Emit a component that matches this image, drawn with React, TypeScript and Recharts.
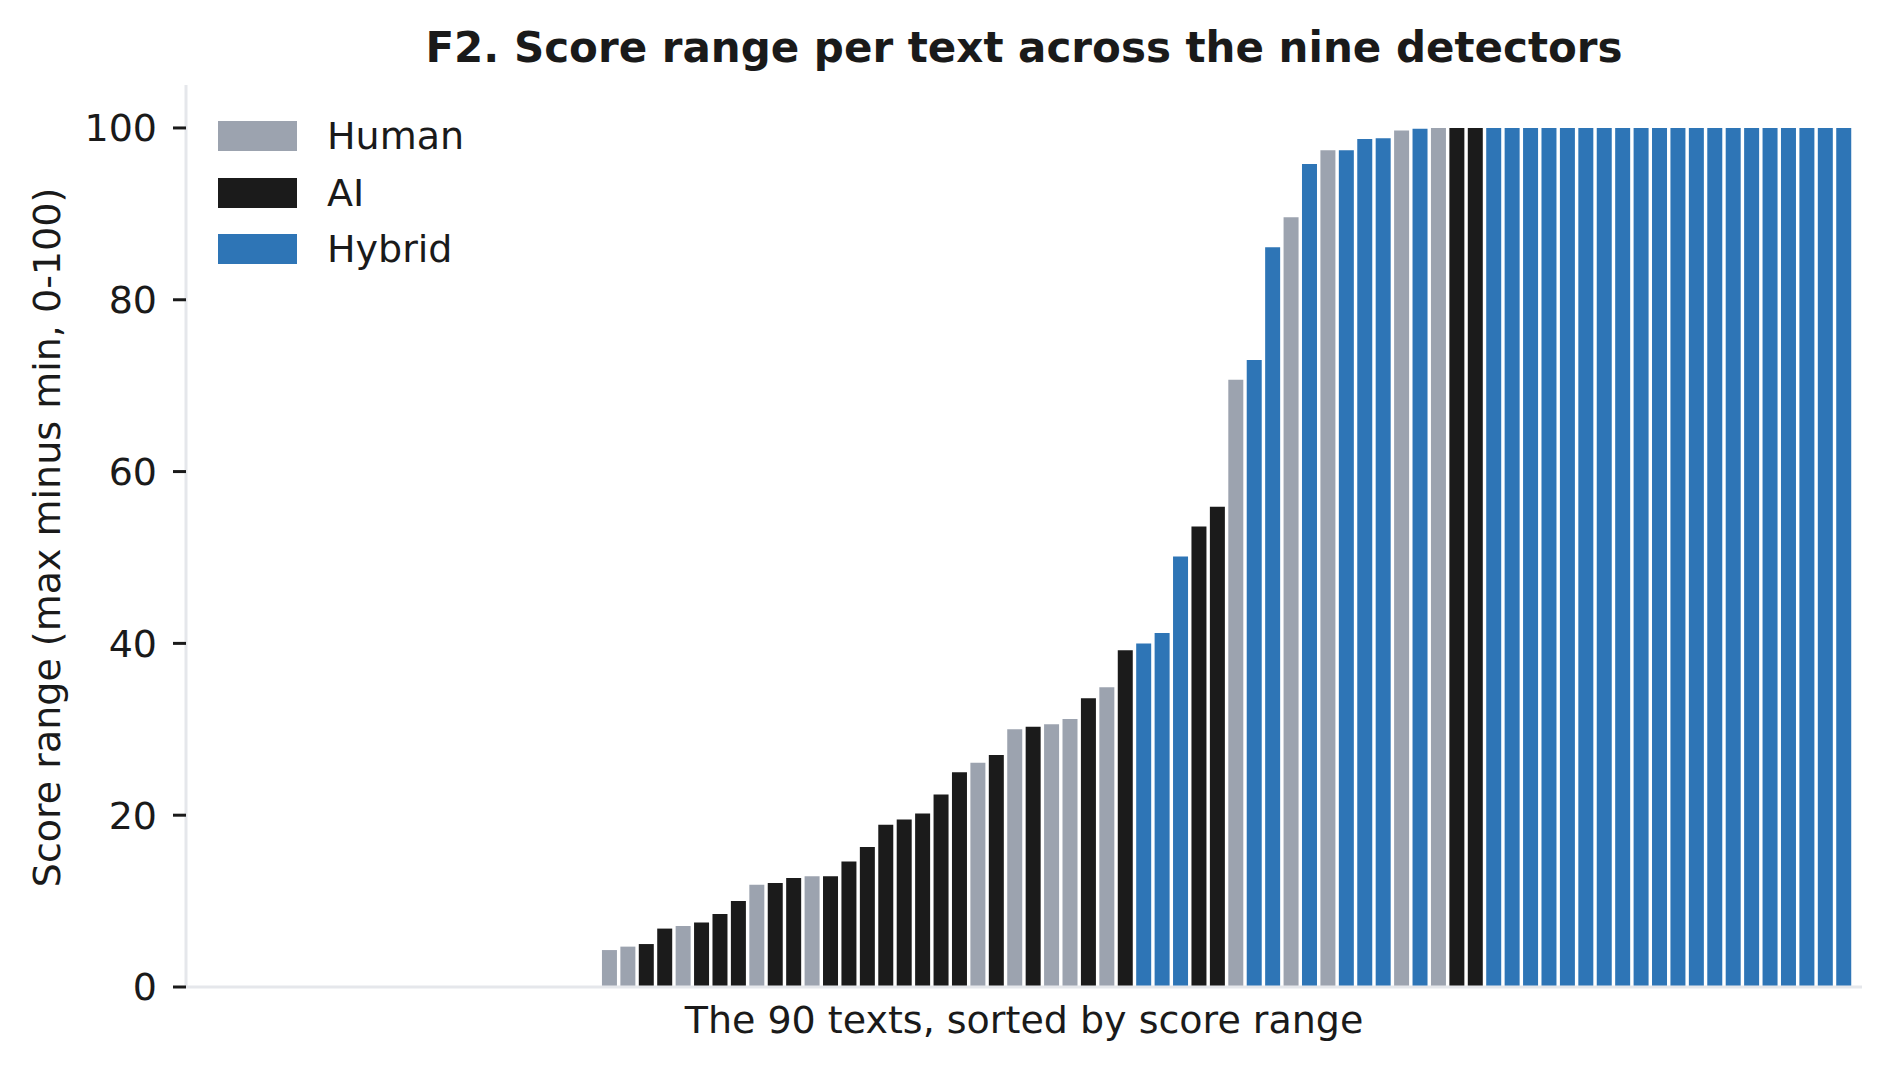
import React from 'react';
import { BarChart, Bar, XAxis, YAxis, Cell, Legend, Label } from 'recharts';

const TITLE = 'F2. Score range per text across the nine detectors';
const X_LABEL = 'The 90 texts, sorted by score range';
const Y_LABEL = 'Score range (max minus min, 0-100)';

const GROUPS = ['Human', 'AI', 'Hybrid'];
const GROUP_COLORS: Record<string, string> = {
  Human: '#9ca3af',
  AI: '#1b1b1b',
  Hybrid: '#2e75b6',
};

const Y_TICKS = [0, 20, 40, 60, 80, 100];

// score range (max minus min) per text, sorted ascending
const SCORE_RANGES = [
  0, 0, 0, 0, 0, 0, 0, 0, 0, 0,
  0, 0, 0, 0, 0, 0, 0, 0, 0, 0,
  0, 0,
  4.3, 4.7, 5.0, 6.8, 7.1, 7.5, 8.5, 10.0, 11.9, 12.1,
  12.7, 12.9, 12.9, 14.6, 16.3, 18.9, 19.5, 20.2, 22.4, 25.0,
  26.1, 27.0, 30.0, 30.3, 30.6, 31.2, 33.6, 34.9, 39.2, 40.0,
  41.2, 50.1, 53.6, 55.9, 70.7, 73.0, 86.1, 89.6, 95.8, 97.4,
  97.4, 98.7, 98.8, 99.7, 99.9, 100, 100, 100, 100, 100,
  100, 100, 100, 100, 100, 100, 100, 100, 100, 100,
  100, 100, 100, 100, 100, 100, 100, 100,
];

// group of each text, same order
const TEXT_GROUPS = [
  'Human', 'Human', 'Human', 'Human', 'Human', 'Human', 'Human', 'Human', 'Human', 'Human',
  'Human', 'Human', 'Human', 'Human', 'Human', 'AI', 'AI', 'AI', 'AI', 'AI',
  'AI', 'AI',
  'Human', 'Human', 'AI', 'AI', 'Human', 'AI', 'AI', 'AI', 'Human', 'AI',
  'AI', 'Human', 'AI', 'AI', 'AI', 'AI', 'AI', 'AI', 'AI', 'AI',
  'Human', 'AI', 'Human', 'AI', 'Human', 'Human', 'AI', 'Human', 'AI', 'Hybrid',
  'Hybrid', 'Hybrid', 'AI', 'AI', 'Human', 'Hybrid', 'Hybrid', 'Human', 'Hybrid', 'Human',
  'Hybrid', 'Hybrid', 'Hybrid', 'Human', 'Hybrid', 'Human', 'AI', 'AI', 'Hybrid', 'Hybrid',
  'Hybrid', 'Hybrid', 'Hybrid', 'Hybrid', 'Hybrid', 'Hybrid', 'Hybrid', 'Hybrid', 'Hybrid', 'Hybrid',
  'Hybrid', 'Hybrid', 'Hybrid', 'Hybrid', 'Hybrid', 'Hybrid', 'Hybrid', 'Hybrid',
];

const data = SCORE_RANGES.map((v, i) => ({ rank: i + 1, range: v, group: TEXT_GROUPS[i] }));

const FONT = '"DejaVu Sans", sans-serif';
const TEXT_COLOR = '#1a1a1a';
const SPINE = '#e5e7eb';
const FS = 38;

const renderXLabel = (props: any) => {
  const vb = props.viewBox || {};
  return (
    <text
      x={vb.x + vb.width / 2}
      y={vb.y + 46}
      textAnchor="middle"
      fontSize={FS}
      fontFamily={FONT}
      fill={TEXT_COLOR}
    >
      {X_LABEL}
    </text>
  );
};

const renderYLabel = (props: any) => {
  const vb = props.viewBox || {};
  const x = 60;
  const y = vb.y + vb.height / 2 + 1.5;
  return (
    <text
      x={x}
      y={y}
      transform={`rotate(-90, ${x}, ${y})`}
      textAnchor="middle"
      fontSize={FS}
      fontFamily={FONT}
      fill={TEXT_COLOR}
    >
      {Y_LABEL}
    </text>
  );
};

const renderLegend = () => (
  <div style={{ display: 'flex', flexDirection: 'column', fontFamily: FONT }}>
    {GROUPS.map((g, i) => (
      <div
        key={g}
        style={{
          display: 'flex',
          alignItems: 'center',
          height: 30,
          marginTop: i === 0 ? 0 : 26.5,
        }}
      >
        <div style={{ width: 79, height: 30, background: GROUP_COLORS[g] }} />
        <span style={{ marginLeft: 30, fontSize: FS, lineHeight: '30px', color: TEXT_COLOR, whiteSpace: 'nowrap' }}>
          {g}
        </span>
      </div>
    ))}
  </div>
);

export default function App() {
  return (
    <div
      style={{
        position: 'absolute',
        left: 0,
        top: 0,
        width: 1889,
        height: 1072,
        background: '#ffffff',
        fontFamily: FONT,
        overflow: 'hidden',
      }}
    >
      <div
        style={{
          position: 'absolute',
          left: 186,
          width: 1676,
          top: 26.5,
          textAlign: 'center',
          fontSize: 42,
          lineHeight: '42px',
          fontWeight: 'bold',
          color: TEXT_COLOR,
          whiteSpace: 'nowrap',
          zIndex: 2,
        }}
      >
        {TITLE}
      </div>
      <BarChart
        width={1889}
        height={1072}
        data={data}
        margin={{ top: 85, right: 27, bottom: 0, left: 0 }}
        barCategoryGap="9%"
      >
        <XAxis
          dataKey="rank"
          type="category"
          tick={false}
          tickLine={false}
          axisLine={{ stroke: SPINE, strokeWidth: 3 }}
          height={85}
          padding={{ left: 9, right: 9 }}
          interval={0}
        >
          <Label content={renderXLabel} />
        </XAxis>
        <YAxis
          type="number"
          domain={[0, 105]}
          ticks={Y_TICKS}
          width={186}
          tickSize={13}
          tickMargin={16}
          tickLine={{ stroke: TEXT_COLOR, strokeWidth: 3 }}
          axisLine={{ stroke: SPINE, strokeWidth: 3 }}
          tick={{ fill: TEXT_COLOR, fontSize: FS, fontFamily: FONT }}
          allowDataOverflow
        >
          <Label content={renderYLabel} />
        </YAxis>
        <Legend
          layout="vertical"
          align="center"
          verticalAlign="middle"
          content={renderLegend}
          wrapperStyle={{ left: 218, top: 121, width: 'auto', height: 'auto' }}
        />
        <Bar dataKey="range" isAnimationActive={false}>
          {data.map((d, i) => (
            <Cell key={i} fill={GROUP_COLORS[d.group]} />
          ))}
        </Bar>
      </BarChart>
    </div>
  );
}
